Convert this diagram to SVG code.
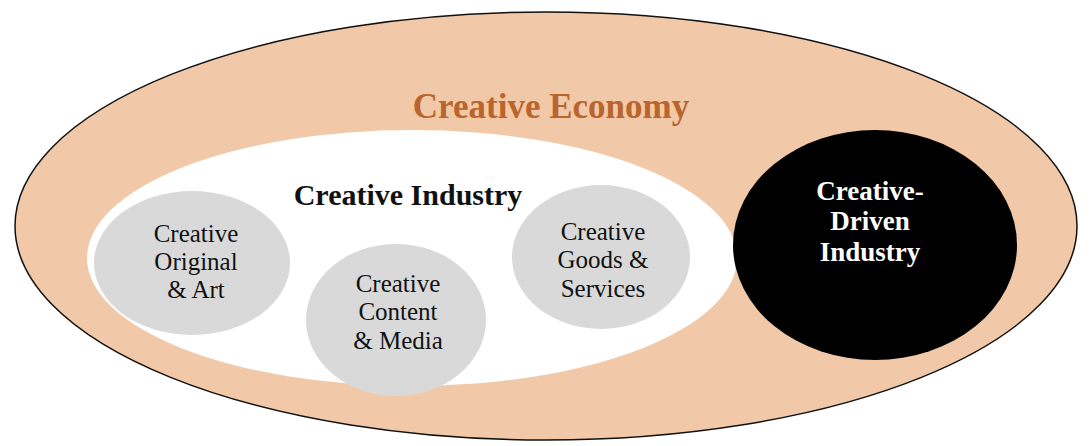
<svg xmlns="http://www.w3.org/2000/svg" width="1092" height="446" viewBox="0 0 1092 446">
<style>
.sub{fill:#d9d9d9;stroke:none}
.t{font-family:"Liberation Serif","Times New Roman",serif;text-anchor:middle}
.st{font-size:25px;fill:#111}
.dt{font-size:27px;font-weight:bold;fill:#ffffff}
</style>
<rect width="1092" height="446" fill="#ffffff"/>
<g id="creative-economy">
<ellipse cx="546" cy="226" rx="531" ry="214" fill="#f1c9a9" stroke="#111" stroke-width="1.5"/>
<text class="t" x="551" y="118" font-size="35" font-weight="bold" fill="#b9652d">Creative Economy</text>
</g>
<g id="creative-industry">
<ellipse cx="412" cy="258" rx="325" ry="128" fill="#ffffff"/>
<text class="t" x="408" y="205" font-size="30" font-weight="bold" fill="#111">Creative Industry</text>
</g>
<g id="creative-original">
<ellipse class="sub" cx="192" cy="263" rx="98" ry="72"/>
<text class="t st" x="196" y="242">Creative</text>
<text class="t st" x="196" y="270">Original</text>
<text class="t st" x="196" y="298">&amp; Art</text>
</g>
<g id="creative-content">
<ellipse class="sub" cx="396" cy="320" rx="90" ry="76"/>
<text class="t st" x="398" y="292">Creative</text>
<text class="t st" x="398" y="320">Content</text>
<text class="t st" x="398" y="349">&amp; Media</text>
</g>
<g id="creative-goods">
<ellipse class="sub" cx="601" cy="257" rx="89" ry="72"/>
<text class="t st" x="603" y="240">Creative</text>
<text class="t st" x="603" y="268">Goods &amp;</text>
<text class="t st" x="603" y="297">Services</text>
</g>
<g id="creative-driven">
<ellipse cx="875" cy="245" rx="142" ry="115" fill="#000000"/>
<text class="t dt" x="870" y="200">Creative-</text>
<text class="t dt" x="870" y="230">Driven</text>
<text class="t dt" x="870" y="261">Industry</text>
</g>
<g id="connectors"></g>
</svg>
